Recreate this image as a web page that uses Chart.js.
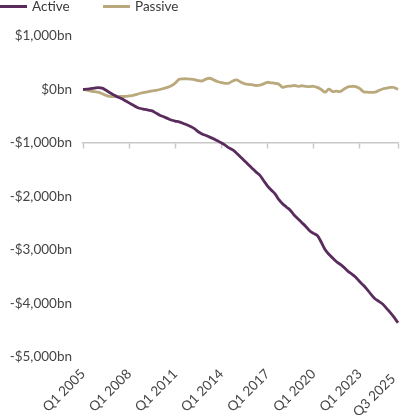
<!DOCTYPE html>
<html><head><meta charset="utf-8">
<script src="https://cdn.jsdelivr.net/npm/chart.js@4"></script>
<style>
html,body{margin:0;padding:0;background:#fff;}
#wrap{position:relative;width:400px;height:415px;}
canvas{display:block;}
#legend{position:absolute;left:0;top:0;width:400px;height:16px;font:13.5px Lato,sans-serif;color:#3a3a3a;}
.item{position:absolute;top:0;height:14px;white-space:nowrap;}
.sw{position:absolute;left:0;top:5px;width:27px;height:3px;}
.lt{position:absolute;left:32px;top:-2px;line-height:16px;}
</style></head><body>
<div id="wrap"><canvas id="c" width="400" height="415" style="width:400px;height:415px"></canvas><div id="legend"></div></div>
<script>
// Categories: quarters Q1 2005 .. Q3 2025
const quarters = [];
for (let y = 2005; y <= 2025; y++) {
  for (let q = 1; q <= 4; q++) {
    if (y === 2025 && q > 3) break;
    quarters.push('Q' + q + ' ' + y);
  }
}
// Tick labels shown on the x axis
const shownTicks = ['Q1 2005','Q1 2008','Q1 2011','Q1 2014','Q1 2017','Q1 2020','Q1 2023','Q3 2025'];
// Y tick values
const yTicks = [1000, 0, -1000, -2000, -3000, -4000, -5000];

const seriesNames = ['Active', 'Passive'];
const seriesColors = ['#5a2b5d', '#b9a97c'];

// Cumulative flows, $bn
const active = [
  0, 5, 15, 25, 35, 25, -15, -60, -100, -140,
  -170, -210, -250, -290, -330, -355, -370, -385, -400, -440,
  -480, -510, -540, -570, -590, -605, -630, -660, -690, -730,
  -790, -830, -860, -890, -920, -960, -995, -1040, -1090, -1130,
  -1190, -1260, -1330, -1400, -1470, -1540, -1600, -1700, -1800, -1880,
  -1950, -2060, -2140, -2200, -2260, -2350, -2420, -2490, -2560, -2640,
  -2690, -2730, -2850, -2990, -3080, -3150, -3220, -3270, -3330, -3400,
  -3450, -3510, -3590, -3660, -3740, -3830, -3910, -3960, -4010, -4090,
  -4170, -4260, -4360
];
const passive = [
  0, -10, -30, -40, -50, -80, -110, -130, -135, -130,
  -130, -130, -120, -110, -90, -70, -55, -40, -25, -15,
  0, 20, 40, 70, 120, 190, 200, 200, 195, 185,
  165, 160, 195, 210, 180, 150, 130, 115, 120, 160,
  180, 140, 110, 95, 90, 75, 80, 105, 135, 125,
  115, 100, 40, 60, 65, 75, 60, 70, 60, 55,
  60, 40, 0, -50, 6, -37, -30, -37, 10, 50,
  60, 55, 20, -40, -50, -55, -50, -20, 10, 25,
  40, 37, 0
];

// HTML legend
const legendEl = document.getElementById('legend');
const legendX = [0, 103];
seriesNames.forEach((n, i) => {
  const it = document.createElement('div');
  it.className = 'item';
  it.style.left = legendX[i] + 'px';
  it.innerHTML = '<span class="sw" style="background:' + seriesColors[i] + '"></span><span class="lt">' + n + '</span>';
  legendEl.appendChild(it);
});

function fmt(v) {
  const a = Math.abs(v).toLocaleString('en-US');
  return (v < 0 ? '-' : '') + '$' + a + 'bn';
}
const isShown = i => shownTicks.includes(quarters[i]);
const lastIdx = quarters.length - 1;
const font = {family: 'Lato', size: 13.5};

new Chart(document.getElementById('c'), {
  type: 'line',
  data: {
    labels: quarters,
    datasets: [
      {label: seriesNames[0], data: active, borderColor: seriesColors[0], backgroundColor: seriesColors[0]},
      {label: seriesNames[1], data: passive, borderColor: seriesColors[1], backgroundColor: seriesColors[1]}
    ]
  },
  options: {
    responsive: false,
    animation: false,
    layout: {padding: {top: 36, left: 0, right: 2, bottom: 0}},
    plugins: {legend: {display: false}, tooltip: {enabled: false}},
    elements: {point: {radius: 0}, line: {tension: 0.3, borderWidth: 2.8}},
    scales: {
      x: {
        type: 'category', position: 'bottom', offset: false,
        grid: {display: false, drawTicks: false}, border: {display: false},
        afterFit: s => { s.height = 58; s.paddingLeft = 0; s.paddingRight = 0; },
        ticks: {autoSkip: false, maxRotation: 45, minRotation: 45, padding: 9, color: '#454545', font: font,
          callback: (v, i) => isShown(i) ? (i === lastIdx ? quarters[i] + '  ' : quarters[i]) : ''}
      },
      x2: {
        type: 'category', position: {y: -1000}, offset: false, labels: quarters,
        grid: {drawOnChartArea: false, drawTicks: true, tickLength: 5, tickWidth: 1.5,
          tickColor: ctx => isShown(ctx.index) ? '#c8c8c8' : 'rgba(0,0,0,0)'},
        border: {display: true, color: '#c8c8c8', width: 1.5},
        ticks: {display: false, autoSkip: false}
      },
      y: {
        min: yTicks[yTicks.length - 1], max: yTicks[0],
        afterBuildTicks: s => { s.ticks = yTicks.map(v => ({value: v})); },
        afterFit: s => { s.width = 83; },
        grid: {display: false, drawTicks: false}, border: {display: false},
        ticks: {padding: 11, color: '#454545', font: font, callback: v => fmt(v)}
      }
    }
  }
});
</script>
</body></html>
